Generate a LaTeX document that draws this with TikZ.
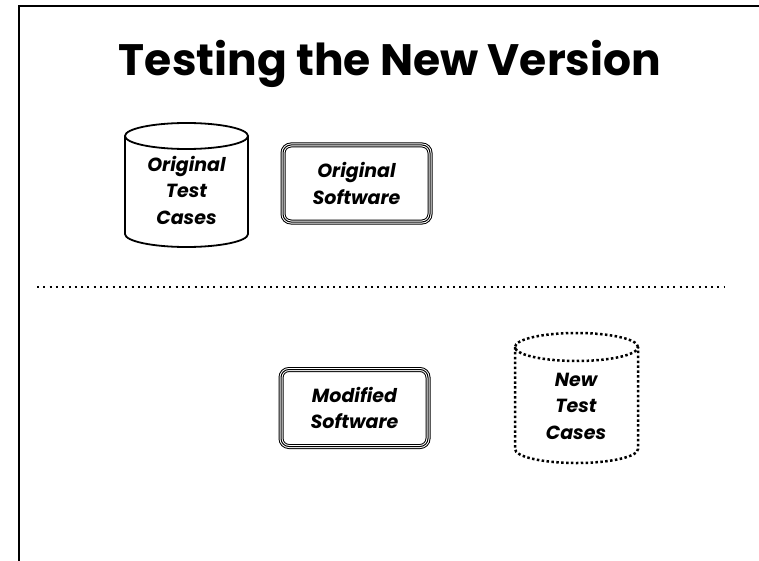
\documentclass[tikz,border=0pt]{standalone}
\usepackage{fontspec}
\setmainfont{Poppins}[BoldFont={* Bold},BoldItalicFont={* Bold Italic},ItalicFont={* Italic}]
\begin{document}
\begin{tikzpicture}[x=1pt,y=-1pt,
  lbl/.style={font=\fontsize{19}{26.5}\selectfont\bfseries\itshape, align=center, inner sep=0pt},
  softbox/.style={draw, line width=1pt, rounded corners=8pt, minimum width=147pt, minimum height=77pt,
     preaction={draw, line width=5pt, rounded corners=8pt},
     preaction={draw=white, line width=3pt, rounded corners=8pt}},
  cyl/.style={line width=1.8pt},
  dcyl/.style={line width=2.5pt, dash pattern=on 2.5pt off 2.4pt},
]
\useasboundingbox (0,0) rectangle (759,561);
% frame
\draw[line width=2pt] (19,562) -- (19,6) -- (760,6);
% title
\node[anchor=base, font=\fontsize{44}{48}\selectfont\bfseries, inner sep=0pt] (title) at (390,76) {Testing the New Version};
% separator
\coordinate (sepL) at (37,287);
\coordinate (sepR) at (725,287);
\draw[line width=2pt, dash pattern=on 2pt off 4.3pt] (sepL) -- (sepR);

% Original Test Cases cylinder
\draw[cyl] (186.5,136) ellipse [x radius=61.5pt, y radius=13pt];
\draw[cyl] (125,136) -- (125,234) arc[start angle=180, end angle=360, x radius=61.5pt, y radius=13pt] -- (248,136);
\node[lbl] (otc) at (186.5,190) {Original\\Test\\Cases};

% Original Software
\node[softbox, lbl] (osw) at (356.5,183.5) {Original\\Software};

% Modified Software
\node[softbox, lbl] (msw) at (354.5,408) {Modified\\Software};

% New Test Cases dotted cylinder
\draw[dcyl] (576.5,347) ellipse [x radius=61.5pt, y radius=14pt];
\draw[dcyl] (515,347) -- (515,449) arc[start angle=180, end angle=360, x radius=61.5pt, y radius=14pt] -- (638,347);
\node[lbl] (ntc) at (576,406) {New\\Test\\Cases};
\end{tikzpicture}
\end{document}
